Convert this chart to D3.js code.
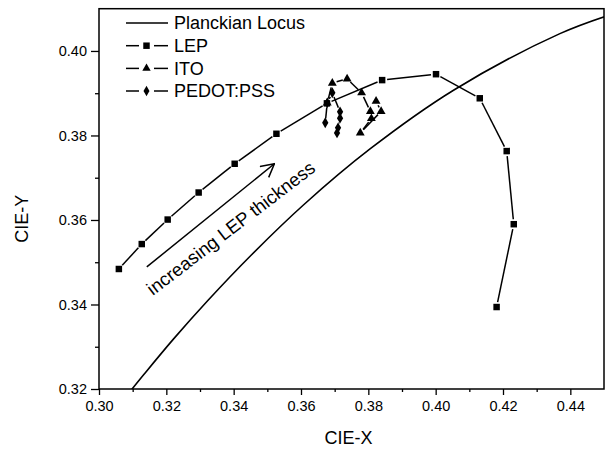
<!DOCTYPE html>
<html>
<head>
<meta charset="utf-8">
<script src="https://cdn.jsdelivr.net/npm/d3@7/dist/d3.min.js"></script>
<style>
  html, body { margin: 0; padding: 0; background: #fff; }
  svg { display: block; font-family: "Liberation Sans", Arial, sans-serif; }
</style>
</head>
<body>
<svg id="chart" width="608" height="450"></svg>
<script>
// ---------------- data ----------------
const planckX = [0.3064, 0.3135, 0.3221, 0.3324, 0.3451, 0.3608, 0.3805, 0.4053, 0.4369, 0.4520];
const planckY = [0.3166, 0.3236, 0.3318, 0.3410, 0.3516, 0.3636, 0.3768, 0.3907, 0.4041, 0.4086];

const lepX = [0.3059, 0.3127, 0.3204, 0.3296, 0.3403, 0.3527, 0.3677, 0.3841, 0.4001, 0.4131, 0.4211, 0.4232, 0.4181];
const lepY = [0.3484, 0.3543, 0.3601, 0.3665, 0.3733, 0.3804, 0.3876, 0.3931, 0.3945, 0.3888, 0.3763, 0.3590, 0.3394];

const itoX = [0.3678, 0.3693, 0.3737, 0.3780, 0.3806, 0.3809, 0.3776, 0.3838, 0.3823];
const itoY = [0.3877, 0.3924, 0.3934, 0.3901, 0.3857, 0.3840, 0.3806, 0.3857, 0.3881];

const pedotX = [0.3672, 0.3678, 0.3693, 0.3716, 0.3716, 0.3710, 0.3707];
const pedotY = [0.3830, 0.3877, 0.3901, 0.3856, 0.3841, 0.3818, 0.3806];

const xMajor = [0.30, 0.32, 0.34, 0.36, 0.38, 0.40, 0.42, 0.44];
const xMinor = [0.31, 0.33, 0.35, 0.37, 0.39, 0.41, 0.43];
const yMajor = [0.32, 0.34, 0.36, 0.38, 0.40];
const yMinor = [0.33, 0.35, 0.37, 0.39];

const legendLabels = ["Planckian Locus", "LEP", "ITO", "PEDOT:PSS"];
const legendSymbols = [null, "square", "triangle", "diamond"];

const arrowX = [0.3142, 0.3521];
const arrowY = [0.3489, 0.3733];
const noteText = "increasing LEP thickness";
const noteX = [0.3160];
const noteY = [0.3420];

// ---------------- layout ----------------
const svg = d3.select("#chart");
const L = 99, R = 604, T = 8.7, B = 389;
const x = d3.scaleLinear([0.30, 0.45], [L, R]);
const y = d3.scaleLinear([0.32, 0.41], [B, T]);

svg.append("defs").append("clipPath").attr("id", "clip")
  .append("rect").attr("x", L).attr("y", T).attr("width", R - L).attr("height", B - T);

const symbolMap = { square: d3.symbolSquare, triangle: d3.symbolTriangle, diamond: d3.symbolDiamond };
const symbolSize = { square: 42, triangle: 34, diamond: 34 };

// Planckian locus
const planck = planckX.map((v, i) => [v, planckY[i]]);
svg.append("path")
  .attr("clip-path", "url(#clip)")
  .attr("d", d3.line().x(d => x(d[0])).y(d => y(d[1])).curve(d3.curveCatmullRom)(planck))
  .attr("fill", "none").attr("stroke", "#000").attr("stroke-width", 1.6);

// Series with gaps around markers (Origin style)
function drawSeries(xs, ys, sym, gap) {
  const pts = xs.map((v, i) => [x(v), y(ys[i])]);
  const g = svg.append("g");
  for (let i = 0; i < pts.length - 1; i++) {
    const [x1, y1] = pts[i], [x2, y2] = pts[i + 1];
    const dx = x2 - x1, dy = y2 - y1, len = Math.hypot(dx, dy);
    if (len <= 2 * gap) continue;
    const ux = dx / len, uy = dy / len;
    g.append("line")
      .attr("x1", x1 + ux * gap).attr("y1", y1 + uy * gap)
      .attr("x2", x2 - ux * gap).attr("y2", y2 - uy * gap)
      .attr("stroke", "#000").attr("stroke-width", 1.5);
  }
  g.selectAll("path.m").data(pts).join("path")
    .attr("class", "m")
    .attr("transform", d => `translate(${d[0]},${d[1]})`)
    .attr("d", d3.symbol(symbolMap[sym], symbolSize[sym]))
    .attr("fill", "#000");
}
drawSeries(lepX, lepY, "square", 5);
drawSeries(itoX, itoY, "triangle", 4.5);
drawSeries(pedotX, pedotY, "diamond", 4.5);

// Axes
const fmt = d3.format(".2f");
const xAxis = svg.append("g").attr("transform", `translate(0,${B})`)
  .call(d3.axisBottom(x).tickValues(xMajor).tickFormat(fmt).tickSize(6).tickPadding(6));
svg.append("g").attr("transform", `translate(0,${B})`)
  .call(d3.axisBottom(x).tickValues(xMinor).tickFormat("").tickSize(3));
const yAxis = svg.append("g").attr("transform", `translate(${L},0)`)
  .call(d3.axisLeft(y).tickValues(yMajor).tickFormat(fmt).tickSize(8).tickPadding(4));
svg.append("g").attr("transform", `translate(${L},0)`)
  .call(d3.axisLeft(y).tickValues(yMinor).tickFormat("").tickSize(4));

svg.selectAll(".domain").remove();
svg.selectAll(".tick line").attr("stroke", "#000").attr("stroke-width", 1.3);
svg.selectAll(".tick text").attr("font-size", 14.5).attr("fill", "#000")
  .attr("font-family", "'Liberation Sans', Arial, sans-serif");

// Frame
svg.append("rect").attr("x", L).attr("y", T).attr("width", R - L).attr("height", B - T)
  .attr("fill", "none").attr("stroke", "#000").attr("stroke-width", 1.5);

// Axis titles
svg.append("text").attr("x", (L + R) / 2 - 3).attr("y", 444)
  .attr("text-anchor", "middle").attr("font-size", 18).text("CIE-X");
svg.append("text").attr("transform", `translate(28,${(T + B) / 2 + 20}) rotate(-90)`)
  .attr("text-anchor", "middle").attr("font-size", 18).text("CIE-Y");

// Legend
const legRowY = [23, 45.7, 68.4, 91];
legendLabels.forEach((lab, i) => {
  const cy = legRowY[i];
  const g = svg.append("g");
  const sym = legendSymbols[i];
  if (!sym) {
    g.append("line").attr("x1", 126).attr("x2", 168).attr("y1", cy).attr("y2", cy)
      .attr("stroke", "#000").attr("stroke-width", 1.6);
  } else {
    g.append("line").attr("x1", 126).attr("x2", 139).attr("y1", cy).attr("y2", cy)
      .attr("stroke", "#000").attr("stroke-width", 1.5);
    g.append("line").attr("x1", 154).attr("x2", 168).attr("y1", cy).attr("y2", cy)
      .attr("stroke", "#000").attr("stroke-width", 1.5);
    g.append("path").attr("transform", `translate(146.5,${cy})`)
      .attr("d", d3.symbol(symbolMap[sym], symbolSize[sym] * (sym === "square" ? 1 : 0.9)))
      .attr("fill", "#000");
  }
  g.append("text").attr("x", 174).attr("y", cy).attr("dy", "0.36em")
    .attr("font-size", 18).text(lab);
});

// Arrow annotation
const defs = svg.select("defs");
defs.append("marker").attr("id", "arrow").attr("markerUnits", "userSpaceOnUse")
  .attr("viewBox", "0 0 16 16").attr("refX", 15).attr("refY", 8)
  .attr("markerWidth", 16).attr("markerHeight", 16).attr("orient", "auto")
  .append("path").attr("d", "M2,1 L15,8 L2,15").attr("fill", "none")
  .attr("stroke", "#000").attr("stroke-width", 1.5);
svg.append("line")
  .attr("x1", x(arrowX[0])).attr("y1", y(arrowY[0]))
  .attr("x2", x(arrowX[1])).attr("y2", y(arrowY[1]))
  .attr("stroke", "#000").attr("stroke-width", 1.5).attr("marker-end", "url(#arrow)");

svg.append("text")
  .attr("transform", `translate(${x(noteX[0])},${y(noteY[0])}) rotate(-37.5)`)
  .attr("font-size", 18.5).text(noteText);
</script>
</body>
</html>
